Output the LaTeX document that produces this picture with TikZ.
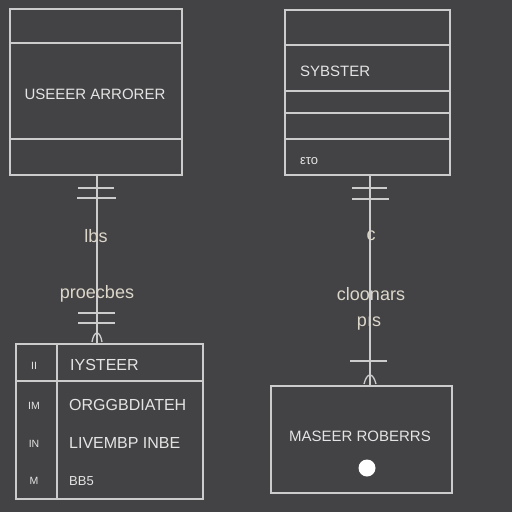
\documentclass[tikz,border=0pt]{standalone}
\usepackage{fontspec}
\setmainfont{Liberation Sans}
\definecolor{bg}{HTML}{434345}
\definecolor{ln}{HTML}{CCCCCC}
\definecolor{tx}{HTML}{E4E4E4}
\definecolor{lb}{HTML}{DCD6CA}
\begin{document}
\begin{tikzpicture}[x=1pt,y=-1pt,
  box/.style={draw=ln,line width=1.5pt,inner sep=0pt,anchor=north west},
  rule/.style={draw=ln,line width=1.5pt},
  conn/.style={draw=ln,line width=1.3pt},
  tick/.style={draw=ln,line width=1.3pt},
  big/.style={text=tx,font=\fontsize{15}{15}\selectfont,inner sep=0pt},
  mid/.style={text=tx,font=\fontsize{16}{16}\selectfont,inner sep=0pt},
  small/.style={text=tx,font=\fontsize{13}{13}\selectfont,inner sep=0pt},
  tiny/.style={text=tx,font=\fontsize{10.5}{10.5}\selectfont,inner sep=0pt},
  lab/.style={text=lb,font=\fontsize{18}{18}\selectfont,inner sep=0pt}]
\fill[bg] (0,0) rectangle (512,512);
\useasboundingbox (0,0) rectangle (512,512);
% top-left box
\node[box,minimum width=172pt,minimum height=166pt] (b1) at (9,8) {};
\draw[rule] (9,43) -- (181,43);
\draw[rule] (9,139) -- (181,139);
\node[big] (t1) at (95,94) {USEEER ARRORER};
% top-right box
\node[box,minimum width=165pt,minimum height=165pt] (b2) at (284,9) {};
\draw[rule] (284,45) -- (449,45);
\draw[rule] (284,91) -- (449,91);
\draw[rule] (284,113) -- (449,113);
\draw[rule] (284,139) -- (449,139);
\node[big,anchor=west] (t2) at (300,71) {SYBSTER};
\node[small,anchor=west] (t3) at (300,161) {ετο};
% bottom-left box
\node[box,minimum width=187pt,minimum height=155pt] (b3) at (15,343) {};
\draw[rule] (57,343) -- (57,498);
\draw[rule] (15,381) -- (202,381);
\node[tiny] (c1) at (34,366) {II};
\node[tiny] (c2) at (34,406) {IM};
\node[tiny] (c3) at (34,444) {IN};
\node[tiny] (c4) at (34,481) {M};
\node[mid,anchor=west] (r1) at (70,365) {IYSTEER};
\node[mid,anchor=west] (r2) at (69,405) {ORGGBDIATEH};
\node[mid,anchor=west] (r3) at (69,443) {LIVEMBP INBE};
\node[small,anchor=west] (r4) at (69,481) {BB5};
% bottom-right box
\node[box,minimum width=181pt,minimum height=107pt] (b4) at (270,385) {};
\node[big] (t4) at (360,436) {MASEER ROBERRS};
\node[circle,fill=white,minimum size=17pt,inner sep=0pt] (dot) at (367,468) {};
% left connector
\coordinate (lx) at (97,0);
\draw[conn] (b1.south -| lx) -- (b3.north -| lx);
\draw[tick] (78,188) -- (114,188);
\draw[tick] (77,198) -- (116,198);
\draw[tick] (78,313) -- (115,313);
\draw[tick] (78,323) -- (115,323);
\draw[conn] (92,342) .. controls (94,330) and (100,330) .. (102,342);
\node[lab] (l1) at (96,236) {lbs};
\node[lab] (l2) at (97,294) {proecbes};
% right connector
\coordinate (rx) at (370,0);
\draw[conn] (b2.south -| rx) -- (b4.north -| rx);
\draw[tick] (352,188) -- (387,188);
\draw[tick] (352,199) -- (389,199);
\draw[tick] (350,361) -- (387,361);
\draw[conn] (364,384) .. controls (367,372) and (373,372) .. (376,384);
\node[lab] (l3) at (371,236) {c};
\node[lab] (l4) at (371,294) {cloonars};
\node[lab] (l5) at (369,324) {pıs};
\end{tikzpicture}
\end{document}
